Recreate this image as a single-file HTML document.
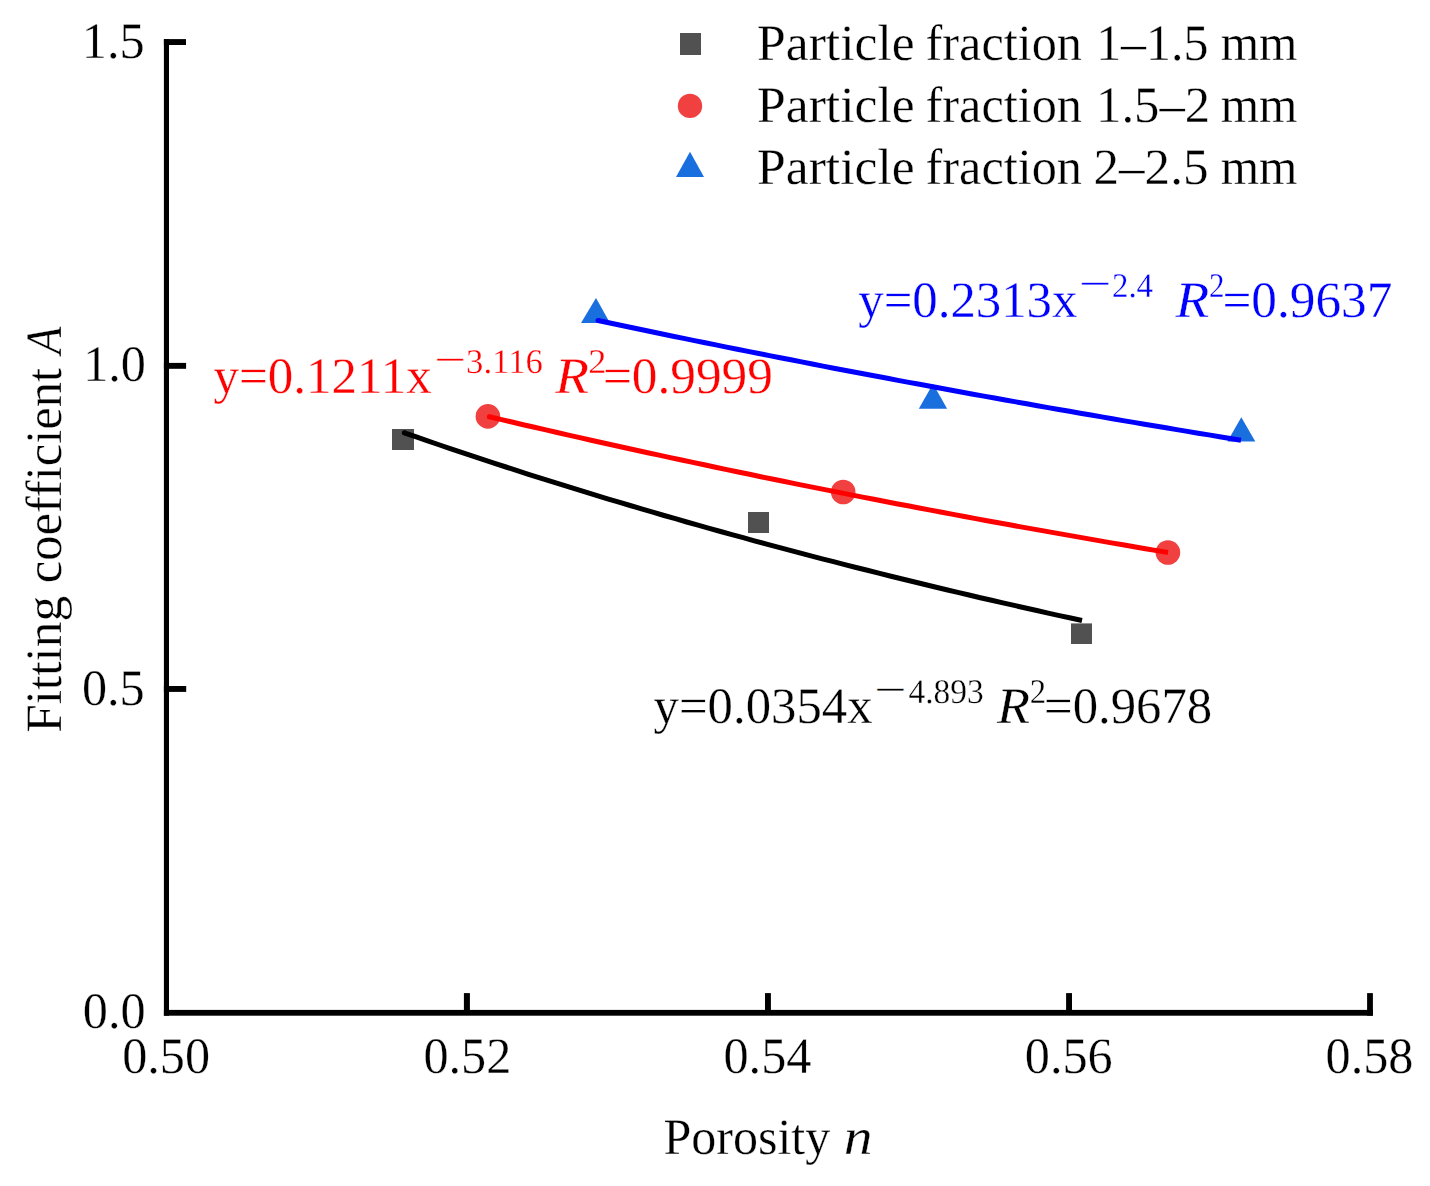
<!DOCTYPE html>
<html><head><meta charset="utf-8">
<style>
html,body{margin:0;padding:0;background:#fff;}
body{width:1430px;height:1186px;overflow:hidden;}
svg{display:block;}
text{text-rendering:geometricPrecision;stroke:#fff;stroke-width:0.3px;paint-order:fill stroke;}
</style></head><body>
<svg width="1430" height="1186" viewBox="0 0 1430 1186">
<rect width="1430" height="1186" fill="#fff"/>
<g fill="#000">
<rect x="163.9" y="39.1" width="5.1" height="976.6"/>
<rect x="163.9" y="1009.9" width="1209" height="5.8"/>
<rect x="163.9" y="39.1" width="22.1" height="5.9"/>
<rect x="163.9" y="362.9" width="22.2" height="5.9"/>
<rect x="163.9" y="686.0" width="22.3" height="5.9"/>
<rect x="463.9" y="993.1" width="6" height="20"/>
<rect x="765.0" y="993.1" width="5.9" height="20"/>
<rect x="1066.1" y="993.1" width="5.9" height="20"/>
<rect x="1367.1" y="993.1" width="5.8" height="22.6"/>
</g>
<g fill="#515151">
<rect x="392" y="429" width="22" height="21"/>
<rect x="748" y="512" width="21" height="21"/>
<rect x="1071" y="623.4" width="21" height="20.6"/>
<rect x="680" y="33" width="21" height="22"/>
</g>
<g fill="#f14040">
<circle cx="487.9" cy="416.4" r="12.3"/>
<circle cx="843.2" cy="492" r="12.3"/>
<circle cx="1167.9" cy="552.5" r="12.3"/>
<circle cx="690" cy="105.9" r="12.2"/>
</g>
<g fill="#1a6fdf">
<polygon points="596,298 581,323 610,323"/>
<polygon points="933,383.7 918.8,408.7 947.1,408.7"/>
<polygon points="1241.3,417.2 1227.4,441.5 1255.3,441.5"/>
<polygon points="690,151.8 676,176.9 704,176.9"/>
</g>
<g fill="none" stroke-width="5" stroke-linejoin="round">
<path d="M404.3,432.8 L415.6,436.7 L426.9,440.6 L438.2,444.5 L449.5,448.3 L460.8,452.1 L472.1,455.9 L483.4,459.6 L494.7,463.3 L506.0,467.0 L517.2,470.6 L528.5,474.3 L539.8,477.9 L551.1,481.4 L562.4,484.9 L573.7,488.4 L585.0,491.9 L596.3,495.4 L607.6,498.8 L618.9,502.2 L630.2,505.5 L641.5,508.9 L652.8,512.2 L664.1,515.5 L675.4,518.7 L686.7,522.0 L698.0,525.2 L709.3,528.3 L720.6,531.5 L731.9,534.6 L743.2,537.7 L754.4,540.8 L765.7,543.9 L777.0,546.9 L788.3,549.9 L799.6,552.9 L810.9,555.9 L822.2,558.8 L833.5,561.7 L844.8,564.6 L856.1,567.5 L867.4,570.3 L878.7,573.2 L890.0,576.0 L901.3,578.8 L912.6,581.5 L923.9,584.3 L935.2,587.0 L946.5,589.7 L957.8,592.4 L969.0,595.0 L980.3,597.7 L991.6,600.3 L1002.9,602.9 L1014.2,605.4 L1025.5,608.0 L1036.8,610.5 L1048.1,613.1 L1059.4,615.6 L1070.7,618.0 L1082.0,620.5" stroke="#000"/>
<path d="M489.3,416.7 L500.6,419.4 L511.9,422.0 L523.2,424.7 L534.5,427.3 L545.9,429.9 L557.2,432.5 L568.5,435.1 L579.8,437.6 L591.1,440.2 L602.4,442.7 L613.7,445.2 L625.0,447.7 L636.4,450.2 L647.7,452.7 L659.0,455.1 L670.3,457.6 L681.6,460.0 L692.9,462.4 L704.2,464.8 L715.5,467.2 L726.8,469.6 L738.2,472.0 L749.5,474.3 L760.8,476.7 L772.1,479.0 L783.4,481.3 L794.7,483.6 L806.0,485.9 L817.3,488.1 L828.7,490.4 L840.0,492.6 L851.3,494.9 L862.6,497.1 L873.9,499.3 L885.2,501.5 L896.5,503.7 L907.8,505.8 L919.1,508.0 L930.5,510.1 L941.8,512.3 L953.1,514.4 L964.4,516.5 L975.7,518.6 L987.0,520.7 L998.3,522.7 L1009.6,524.8 L1020.9,526.9 L1032.3,528.9 L1043.6,530.9 L1054.9,532.9 L1066.2,534.9 L1077.5,536.9 L1088.8,538.9 L1100.1,540.9 L1111.4,542.9 L1122.8,544.8 L1134.1,546.7 L1145.4,548.7 L1156.7,550.6 L1168.0,552.5" stroke="#f00"/>
<path d="M598.0,320.5 L608.7,322.8 L619.4,325.0 L630.1,327.3 L640.9,329.5 L651.6,331.8 L662.3,334.0 L673.0,336.2 L683.7,338.4 L694.5,340.6 L705.2,342.8 L715.9,344.9 L726.6,347.1 L737.3,349.2 L748.0,351.4 L758.8,353.5 L769.5,355.6 L780.2,357.7 L790.9,359.8 L801.6,361.9 L812.3,364.0 L823.0,366.1 L833.8,368.2 L844.5,370.2 L855.2,372.3 L865.9,374.3 L876.6,376.3 L887.4,378.3 L898.1,380.4 L908.8,382.4 L919.5,384.3 L930.2,386.3 L940.9,388.3 L951.6,390.3 L962.4,392.2 L973.1,394.2 L983.8,396.1 L994.5,398.0 L1005.2,400.0 L1016.0,401.9 L1026.7,403.8 L1037.4,405.7 L1048.1,407.6 L1058.8,409.5 L1069.5,411.3 L1080.2,413.2 L1091.0,415.0 L1101.7,416.9 L1112.4,418.7 L1123.1,420.6 L1133.8,422.4 L1144.5,424.2 L1155.3,426.0 L1166.0,427.8 L1176.7,429.6 L1187.4,431.4 L1198.1,433.2 L1208.8,434.9 L1219.6,436.7 L1230.3,438.5 L1241.0,440.2" stroke="#00f"/>
</g>
<circle cx="404.3" cy="432.8" r="2.5" fill="#000"/>
<circle cx="489.3" cy="416.7" r="2.5" fill="#f00"/>
<circle cx="598" cy="320.5" r="2.5" fill="#00f"/>
<text transform="translate(757.03,60.15) scale(1.0118,1)" style="font-family:'Liberation Serif',serif;font-size:51px;fill:#000;">Particle</text>
<text transform="translate(925.57,60.15) scale(0.9862,1)" style="font-family:'Liberation Serif',serif;font-size:51px;fill:#000;">fraction</text>
<text transform="translate(1096.15,60.15) scale(0.9782,1)" style="font-family:'Liberation Serif',serif;font-size:51px;fill:#000;">1–1.5</text>
<text transform="translate(1220.69,60.15) scale(0.9670,1)" style="font-family:'Liberation Serif',serif;font-size:51px;fill:#000;">mm</text>
<text transform="translate(757.03,121.76) scale(1.0118,1)" style="font-family:'Liberation Serif',serif;font-size:51px;fill:#000;">Particle</text>
<text transform="translate(925.57,121.76) scale(0.9862,1)" style="font-family:'Liberation Serif',serif;font-size:51px;fill:#000;">fraction</text>
<text transform="translate(1096.08,121.76) scale(0.9944,1)" style="font-family:'Liberation Serif',serif;font-size:51px;fill:#000;">1.5–2</text>
<text transform="translate(1220.69,121.76) scale(0.9670,1)" style="font-family:'Liberation Serif',serif;font-size:51px;fill:#000;">mm</text>
<text transform="translate(757.03,183.70) scale(1.0118,1)" style="font-family:'Liberation Serif',serif;font-size:51px;fill:#000;">Particle</text>
<text transform="translate(925.57,183.70) scale(0.9862,1)" style="font-family:'Liberation Serif',serif;font-size:51px;fill:#000;">fraction</text>
<text transform="translate(1093.50,183.70) scale(1.0018,1)" style="font-family:'Liberation Serif',serif;font-size:51px;fill:#000;">2–2.5</text>
<text transform="translate(1220.69,183.70) scale(0.9670,1)" style="font-family:'Liberation Serif',serif;font-size:51px;fill:#000;">mm</text>
<text transform="translate(81.82,57.50) scale(0.985,1)" style="font-family:'Liberation Serif',serif;font-size:51px;fill:#000;">1.5</text>
<text transform="translate(83.18,380.50) scale(0.985,1)" style="font-family:'Liberation Serif',serif;font-size:51px;fill:#000;">1.0</text>
<text transform="translate(81.92,705.00) scale(0.985,1)" style="font-family:'Liberation Serif',serif;font-size:51px;fill:#000;">0.5</text>
<text transform="translate(82.78,1027.80) scale(0.985,1)" style="font-family:'Liberation Serif',serif;font-size:51px;fill:#000;">0.0</text>
<text transform="translate(122.14,1072.70) scale(0.985,1)" style="font-family:'Liberation Serif',serif;font-size:51px;fill:#000;">0.50</text>
<text transform="translate(423.44,1072.70) scale(0.985,1)" style="font-family:'Liberation Serif',serif;font-size:51px;fill:#000;">0.52</text>
<text transform="translate(723.45,1072.70) scale(0.985,1)" style="font-family:'Liberation Serif',serif;font-size:51px;fill:#000;">0.54</text>
<text transform="translate(1024.82,1072.70) scale(0.985,1)" style="font-family:'Liberation Serif',serif;font-size:51px;fill:#000;">0.56</text>
<text transform="translate(1325.54,1072.70) scale(0.985,1)" style="font-family:'Liberation Serif',serif;font-size:51px;fill:#000;">0.58</text>
<text transform="translate(663.38,1154.40) scale(0.9815,1)" style="font-family:'Liberation Serif',serif;font-size:51px;fill:#000;">Porosity</text>
<text transform="translate(843.74,1154.40) scale(1.1294,1)" style="font-family:'Liberation Serif',serif;font-size:51px;fill:#000;font-style:italic;">n</text>
<text transform="translate(61.20,732.86) rotate(-90) scale(1.0064,1)" style="font-family:'Liberation Serif',serif;font-size:51px;fill:#000;">Fitting</text>
<text transform="translate(61.20,583.18) rotate(-90) scale(0.9909,1)" style="font-family:'Liberation Serif',serif;font-size:51px;fill:#000;">coefficient</text>
<text transform="translate(61.20,354.18) rotate(-90) scale(0.8866,1)" style="font-family:'Liberation Serif',serif;font-size:51px;fill:#000;font-style:italic;">A</text>
<text transform="translate(213.55,393.10) scale(1.0000,1)" style="font-family:'Liberation Serif',serif;font-size:51px;fill:#f00;">y=0.1211x</text>
<text transform="translate(434.15,373.36) scale(1.1097,0.78)" style="font-family:'Liberation Serif',serif;font-size:51px;fill:#f00;">−</text>
<text transform="translate(466.04,372.50) scale(1.0054,1)" style="font-family:'Liberation Serif',serif;font-size:34.6px;fill:#f00;will-change:transform;">3.116</text>
<text transform="translate(555.30,393.10) scale(1.0833,1)" style="font-family:'Liberation Serif',serif;font-size:51px;fill:#f00;font-style:italic;">R</text>
<text transform="translate(588.16,372.50) scale(1.0519,1)" style="font-family:'Liberation Serif',serif;font-size:34.6px;fill:#f00;will-change:transform;">2</text>
<text transform="translate(602.93,393.10) scale(1.0055,1)" style="font-family:'Liberation Serif',serif;font-size:51px;fill:#f00;">=0.9999</text>
<text transform="translate(858.25,317.20) scale(0.9959,1)" style="font-family:'Liberation Serif',serif;font-size:51px;fill:#00f;">y=0.2313x</text>
<text transform="translate(1078.70,297.46) scale(1.1269,0.78)" style="font-family:'Liberation Serif',serif;font-size:51px;fill:#00f;">−</text>
<text transform="translate(1111.93,296.60) scale(0.9521,1)" style="font-family:'Liberation Serif',serif;font-size:34.6px;fill:#00f;will-change:transform;">2.4</text>
<text transform="translate(1175.50,317.20) scale(1.0833,1)" style="font-family:'Liberation Serif',serif;font-size:51px;fill:#00f;font-style:italic;">R</text>
<text transform="translate(1209.03,296.60) scale(0.8963,1)" style="font-family:'Liberation Serif',serif;font-size:34.6px;fill:#00f;will-change:transform;">2</text>
<text transform="translate(1222.43,317.20) scale(1.0055,1)" style="font-family:'Liberation Serif',serif;font-size:51px;fill:#00f;">=0.9637</text>
<text transform="translate(653.55,723.10) scale(0.9954,1)" style="font-family:'Liberation Serif',serif;font-size:51px;fill:#000;">y=0.0354x</text>
<text transform="translate(874.22,703.36) scale(1.1183,0.78)" style="font-family:'Liberation Serif',serif;font-size:51px;fill:#000;">−</text>
<text transform="translate(908.47,702.50) scale(0.9669,1)" style="font-family:'Liberation Serif',serif;font-size:34.6px;fill:#000;will-change:transform;">4.893</text>
<text transform="translate(996.90,723.10) scale(1.0600,1)" style="font-family:'Liberation Serif',serif;font-size:51px;fill:#000;font-style:italic;">R</text>
<text transform="translate(1029.74,702.50) scale(0.9481,1)" style="font-family:'Liberation Serif',serif;font-size:34.6px;fill:#000;will-change:transform;">2</text>
<text transform="translate(1044.06,723.10) scale(0.9948,1)" style="font-family:'Liberation Serif',serif;font-size:51px;fill:#000;">=0.9678</text>
</svg>
</body></html>
